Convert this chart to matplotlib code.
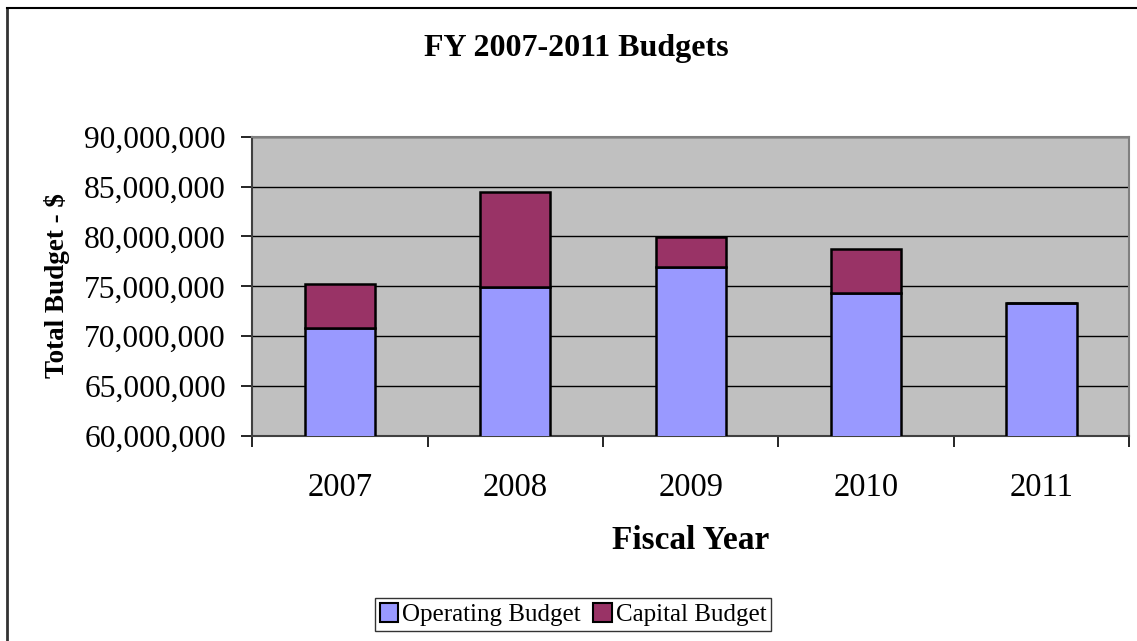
import matplotlib.pyplot as plt
from matplotlib.patches import Patch
from matplotlib.lines import Line2D
from matplotlib.ticker import FuncFormatter
import numpy as np

years = ["2007", "2008", "2009", "2010", "2011"]
operating = [70800000, 74900000, 76900000, 74300000, 73300000]
capital = [4400000, 9550000, 3000000, 4400000, 0]

plt.rcParams['font.family'] = ['Liberation Serif', 'DejaVu Serif']

fig = plt.figure(figsize=(11.37, 6.41), dpi=100)
ax = fig.add_axes([0.2219, 0.3198, 0.7713, 0.4669])
ax.set_facecolor("#C0C0C0")

x = np.arange(len(years))
ax.bar(x, operating, width=0.4, color="#9999FF", edgecolor="black", linewidth=1.8,
       label="Operating Budget", zorder=3)
ax.bar(x, capital, width=0.4, bottom=operating, color="#993366", edgecolor="black",
       linewidth=1.8, label="Capital Budget", zorder=3)

ax.set_ylim(60000000, 90000000)
ax.set_xlim(-0.5, 4.5)
ax.set_yticks(np.arange(60000000, 90000001, 5000000))
ax.yaxis.set_major_formatter(FuncFormatter(lambda v, p: f"{int(v):,}"))
ax.yaxis.grid(True, color="black", linewidth=1.0, zorder=1)
ax.set_axisbelow(True)

ax.set_xticks(x)
ax.set_xticklabels(years)
ax.set_xticks(np.arange(-0.5, 5, 1), minor=True)
ax.tick_params(axis="x", which="major", length=0, pad=26, labelsize=23.5)
ax.tick_params(axis="x", which="minor", length=8, width=1.2, direction="out")
ax.tick_params(axis="y", length=8, width=1.2, pad=11, labelsize=22.7)

for side in ["top", "right"]:
    ax.spines[side].set_color("#808080")
    ax.spines[side].set_linewidth(1.5)
ax.spines["left"].set_color("#404040")
ax.spines["bottom"].set_color("#404040")
ax.spines["left"].set_linewidth(1.5)
ax.spines["bottom"].set_linewidth(1.5)

fig.text(0.507, 0.925, "FY 2007-2011 Budgets", ha="center", va="center",
         fontsize=23, fontweight="bold")
fig.text(0.050, 0.555, "Total Budget - $", ha="center", va="center",
         rotation=90, fontsize=19.5, fontweight="bold")
fig.text(0.607, 0.157, "Fiscal Year", ha="center", va="center",
         fontsize=24, fontweight="bold")

handles = [Patch(facecolor="#9999FF", edgecolor="black", linewidth=1.5),
           Patch(facecolor="#993366", edgecolor="black", linewidth=1.5)]
leg = fig.legend(handles, ["Operating Budget", "Capital Budget"], loc="center",
                 bbox_to_anchor=(0.504, 0.041), ncol=2, fontsize=18,
                 frameon=True, fancybox=False, handlelength=0.75, handleheight=0.75,
                 handletextpad=0.15, columnspacing=0.5, borderpad=0.2,
                 borderaxespad=0)
leg.get_frame().set_edgecolor("black")
leg.get_frame().set_linewidth(1.0)

# outer chart frame (left and top edges)
fig.add_artist(Line2D([0.0065, 0.0065], [0.0, 0.988], transform=fig.transFigure,
                      color="#333333", linewidth=2))
fig.add_artist(Line2D([0.0065, 1.0], [0.988, 0.988], transform=fig.transFigure,
                      color="black", linewidth=1.5))

fig.savefig("out.png", dpi=100)
